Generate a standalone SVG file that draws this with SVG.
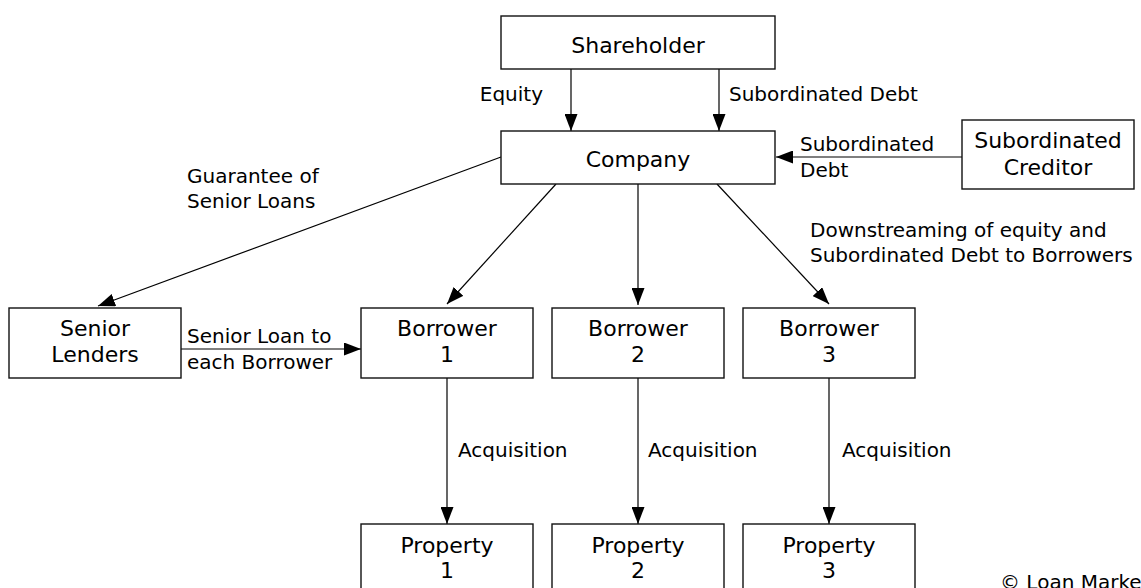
<svg xmlns="http://www.w3.org/2000/svg" width="1141" height="588" viewBox="0 0 1141 588">
<defs>
<style>
.box{fill:#fff;stroke:#111;stroke-width:1.4}
.nt{font-family:"DejaVu Sans",sans-serif;font-size:22px;fill:#000;text-anchor:middle}
.lb{font-family:"DejaVu Sans",sans-serif;font-size:20px;fill:#000}
.ln{stroke:#000;stroke-width:1.2;fill:none}
</style>
<marker id="ah" markerUnits="userSpaceOnUse" markerWidth="17" markerHeight="13" refX="17" refY="6.5" orient="auto">
<path d="M0,0 L17,6.5 L0,13 z" fill="#000"/>
</marker>
</defs>
<rect width="1141" height="588" fill="#fff"/>
<g id="connectors">
<line class="ln" x1="571" y1="69" x2="571" y2="131" marker-end="url(#ah)"/>
<line class="ln" x1="719" y1="69" x2="719" y2="131" marker-end="url(#ah)"/>
<line class="ln" x1="962" y1="157" x2="776" y2="157" marker-end="url(#ah)"/>
<line class="ln" x1="501" y1="157" x2="98" y2="306" marker-end="url(#ah)"/>
<line class="ln" x1="556" y1="184" x2="447" y2="304" marker-end="url(#ah)"/>
<line class="ln" x1="638" y1="184" x2="638" y2="305" marker-end="url(#ah)"/>
<line class="ln" x1="717" y1="184" x2="829" y2="304" marker-end="url(#ah)"/>
<line class="ln" x1="181" y1="349" x2="361" y2="349" marker-end="url(#ah)"/>
<line class="ln" x1="447" y1="378" x2="447" y2="524" marker-end="url(#ah)"/>
<line class="ln" x1="638" y1="378" x2="638" y2="524" marker-end="url(#ah)"/>
<line class="ln" x1="829" y1="378" x2="829" y2="524" marker-end="url(#ah)"/>
<text class="lb" x="543" y="101" text-anchor="end">Equity</text>
<text class="lb" x="729" y="101">Subordinated Debt</text>
<text class="lb" x="800" y="151">Subordinated</text>
<text class="lb" x="800" y="177">Debt</text>
<text class="lb" x="187" y="183">Guarantee of</text>
<text class="lb" x="187" y="208">Senior Loans</text>
<text class="lb" x="810" y="237">Downstreaming of equity and</text>
<text class="lb" x="810" y="262">Subordinated Debt to Borrowers</text>
<text class="lb" x="187" y="343">Senior Loan to</text>
<text class="lb" x="187" y="369">each Borrower</text>
<text class="lb" x="458" y="457">Acquisition</text>
<text class="lb" x="648" y="457">Acquisition</text>
<text class="lb" x="842" y="457">Acquisition</text>
</g>
<g id="shareholder"><rect class="box" x="501" y="16" width="274" height="53"/><text class="nt" x="638" y="53">Shareholder</text></g>
<g id="company"><rect class="box" x="501" y="131" width="274" height="53"/><text class="nt" x="638" y="167">Company</text></g>
<g id="subcreditor"><rect class="box" x="962" y="120" width="172" height="69"/><text class="nt" x="1048" y="148">Subordinated</text><text class="nt" x="1048" y="175">Creditor</text></g>
<g id="seniorlenders"><rect class="box" x="9" y="308" width="172" height="70"/><text class="nt" x="95" y="336">Senior</text><text class="nt" x="95" y="362">Lenders</text></g>
<g id="borrower1"><rect class="box" x="361" y="308" width="172" height="70"/><text class="nt" x="447" y="336">Borrower</text><text class="nt" x="447" y="362">1</text></g>
<g id="borrower2"><rect class="box" x="552" y="308" width="172" height="70"/><text class="nt" x="638" y="336">Borrower</text><text class="nt" x="638" y="362">2</text></g>
<g id="borrower3"><rect class="box" x="743" y="308" width="172" height="70"/><text class="nt" x="829" y="336">Borrower</text><text class="nt" x="829" y="362">3</text></g>
<g id="property1"><rect class="box" x="361" y="524" width="172" height="70"/><text class="nt" x="447" y="553">Property</text><text class="nt" x="447" y="578">1</text></g>
<g id="property2"><rect class="box" x="552" y="524" width="172" height="70"/><text class="nt" x="638" y="553">Property</text><text class="nt" x="638" y="578">2</text></g>
<g id="property3"><rect class="box" x="743" y="524" width="172" height="70"/><text class="nt" x="829" y="553">Property</text><text class="nt" x="829" y="578">3</text></g>
<text class="lb" x="1000" y="589" font-size="16">© Loan Marke</text>
</svg>
